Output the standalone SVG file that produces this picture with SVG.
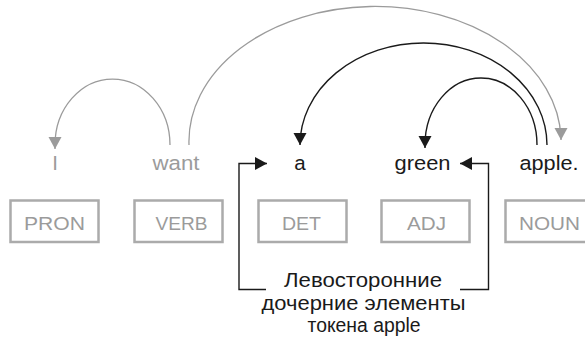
<svg xmlns="http://www.w3.org/2000/svg" width="585" height="338" viewBox="0 0 585 338">
<defs>
<style>
.w{font-family:"Liberation Sans",Arial,sans-serif;font-size:20.5px;text-anchor:middle}
.g{fill:#9b9b9b}
.k{fill:#1a1a1a}
.box rect{fill:#fff;stroke:#ababab;stroke-width:2.5}
.box text{font-family:"Liberation Sans",Arial,sans-serif;font-size:17.5px;fill:#9b9b9b;text-anchor:middle}
.note{font-family:"Liberation Sans",Arial,sans-serif;font-size:19.5px;fill:#1a1a1a;text-anchor:middle}
.ag{fill:none;stroke:#9b9b9b;stroke-width:1.3}
.ak{fill:none;stroke:#1a1a1a;stroke-width:1.4}
</style>
<marker id="hg" markerUnits="userSpaceOnUse" markerWidth="14" markerHeight="14" refX="12" refY="6.5" orient="auto" viewBox="0 0 14 14"><path d="M0,0 L12,6.5 L0,13 z" fill="#9b9b9b"/></marker>
<marker id="hk" markerUnits="userSpaceOnUse" markerWidth="14" markerHeight="14" refX="12" refY="6.5" orient="auto" viewBox="0 0 14 14"><path d="M0,0 L12,6.5 L0,13 z" fill="#1a1a1a"/></marker>
</defs>
<rect width="585" height="338" fill="#fff"/>
<g id="connectors">
<path class="ag" d="M170,145 A57.5,66 0 0 0 55,145 L55,149" marker-end="url(#hg)"/>
<path class="ag" d="M189,145 A186,135 0 0 1 561,138 L561,140" marker-end="url(#hg)"/>
<path class="ak" d="M547,145 A123.5,102 0 0 0 300,145" marker-end="url(#hk)"/>
<path class="ak" d="M537,145 A56,67 0 0 0 425,145 L425,148" marker-end="url(#hk)"/>
<path class="ak" d="M266,289.5 H239 V163.5 H267" marker-end="url(#hk)"/>
<path class="ak" d="M460,289.5 H488.5 V163.5 H460" marker-end="url(#hk)"/>
</g>
<g id="word-I"><text class="w g" x="55" y="170">I</text></g>
<g id="word-want"><text class="w g" x="176" y="170" textLength="47" lengthAdjust="spacingAndGlyphs">want</text></g>
<g id="word-a"><text class="w k" x="300" y="170">a</text></g>
<g id="word-green"><text class="w k" x="422.5" y="170" textLength="56" lengthAdjust="spacingAndGlyphs">green</text></g>
<g id="word-apple"><text class="w k" x="549" y="170" textLength="59" lengthAdjust="spacingAndGlyphs">apple.</text></g>
<g id="box-pron" class="box"><rect x="10.5" y="200.5" width="88" height="41.5"/><text x="54.5" y="229.5" textLength="61" lengthAdjust="spacingAndGlyphs">PRON</text></g>
<g id="box-verb" class="box"><rect x="134.5" y="200.5" width="88" height="41.5"/><text x="181.5" y="229.5" textLength="52" lengthAdjust="spacingAndGlyphs">VERB</text></g>
<g id="box-det" class="box"><rect x="258.5" y="200.5" width="88" height="41.5"/><text x="301.5" y="229.5" textLength="39" lengthAdjust="spacingAndGlyphs">DET</text></g>
<g id="box-adj" class="box"><rect x="381.5" y="200.5" width="88" height="41.5"/><text x="426.5" y="229.5" textLength="39" lengthAdjust="spacingAndGlyphs">ADJ</text></g>
<g id="box-noun" class="box"><rect x="505.5" y="200.5" width="88" height="41.5"/><text x="549.5" y="229.5" textLength="61" lengthAdjust="spacingAndGlyphs">NOUN</text></g>
<g id="note">
<text class="note" x="363" y="286.5" textLength="158" lengthAdjust="spacingAndGlyphs">Левосторонние</text>
<text class="note" x="363.5" y="309.5" textLength="204" lengthAdjust="spacingAndGlyphs">дочерние элементы</text>
<text class="note" x="364" y="331.5" textLength="113" lengthAdjust="spacingAndGlyphs">токена apple</text>
</g>
</svg>
